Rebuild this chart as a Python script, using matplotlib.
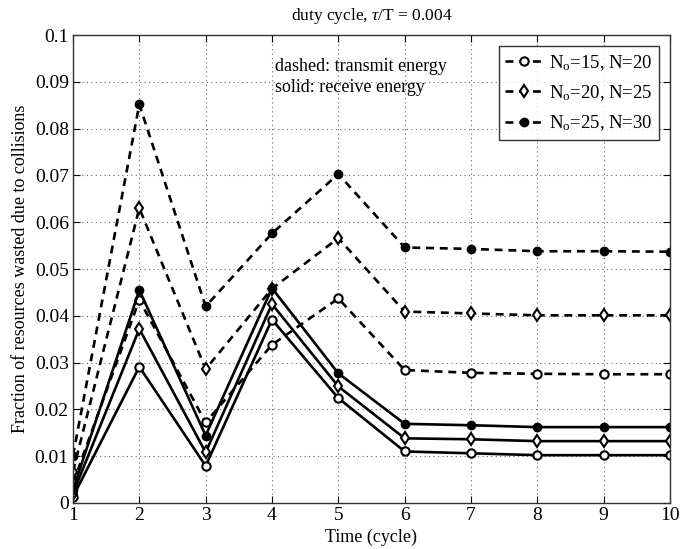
import matplotlib
matplotlib.use('Agg')
import matplotlib.pyplot as plt
from matplotlib.ticker import FixedLocator

plt.rcParams['font.family'] = ['Liberation Serif', 'DejaVu Serif']
plt.rcParams['mathtext.fontset'] = 'custom'
plt.rcParams['mathtext.rm'] = 'Liberation Serif'
plt.rcParams['mathtext.it'] = 'Liberation Serif:italic'

tiempo = [1, 2, 3, 4, 5, 6, 7, 8, 9, 10]

# dashed: transmit energy
tx_n20 = [0.0042, 0.0434, 0.0172, 0.0338, 0.0437, 0.0284, 0.0278, 0.0276, 0.0275, 0.0275]
tx_n25 = [0.0067, 0.0630, 0.0286, 0.0458, 0.0566, 0.0409, 0.0405, 0.0401, 0.0401, 0.0401]
tx_n30 = [0.0101, 0.0852, 0.0420, 0.0576, 0.0703, 0.0546, 0.0543, 0.0538, 0.0538, 0.0537]

# solid: receive energy
rx_n20 = [0.0013, 0.0291, 0.0079, 0.0392, 0.0224, 0.0110, 0.0106, 0.0102, 0.0102, 0.0102]
rx_n25 = [0.0020, 0.0372, 0.0108, 0.0425, 0.0249, 0.0138, 0.0136, 0.0132, 0.0132, 0.0132]
rx_n30 = [0.0028, 0.0455, 0.0144, 0.0459, 0.0277, 0.0169, 0.0166, 0.0162, 0.0162, 0.0162]

etiquetas = ['N$_\\mathrm{o}$=15, N=20', 'N$_\\mathrm{o}$=20, N=25', 'N$_\\mathrm{o}$=25, N=30']
y_ticks = [0, 0.01, 0.02, 0.03, 0.04, 0.05, 0.06, 0.07, 0.08, 0.09, 0.1]
y_tick_labels = ['0', '0.01', '0.02', '0.03', '0.04', '0.05', '0.06', '0.07', '0.08', '0.09', '0.1']

fig = plt.figure(figsize=(6.95, 5.49), dpi=100)
ax = fig.add_axes([0.105, 0.084, 0.859, 0.852])

estilos = [
    (tx_n20, rx_n20, dict(marker='o', markerfacecolor='white', markersize=6)),
    (tx_n25, rx_n25, dict(marker='d', markerfacecolor='white', markersize=6)),
    (tx_n30, rx_n30, dict(marker='o', markerfacecolor='black', markersize=5.5)),
]

lw = 1.9
for (tx, rx, mk), etiqueta in zip(estilos, etiquetas):
    ax.plot(tiempo, tx, color='black', linestyle=(0, (3, 2.2)), linewidth=lw,
            markeredgecolor='black', markeredgewidth=1.5, label=etiqueta, **mk)
    ax.plot(tiempo, rx, color='black', linestyle='-', linewidth=lw,
            markeredgecolor='black', markeredgewidth=1.5, **mk)

ax.set_xlim(1, 10)
ax.set_ylim(0, 0.1)
ax.xaxis.set_major_locator(FixedLocator(tiempo))
ax.set_yticks(y_ticks)
ax.set_yticklabels(y_tick_labels)
ax.tick_params(direction='in', top=True, right=True, labelsize=14, length=5, pad=3)
ax.grid(True, linestyle=(0, (1, 3)), color='#666666', linewidth=0.8)
for s in ax.spines.values():
    s.set_linewidth(1.0)
    s.set_color('#333333')

ax.set_xlabel('Time (cycle)', fontsize=13, labelpad=3)
ax.set_ylabel('Fraction of resources wasted due to collisions', fontsize=13, labelpad=4)
ax.set_title('duty cycle, $\\tau$/T = 0.004', fontsize=12.5, pad=11)

ax.text(4.05, 0.0952, 'dashed: transmit energy\nsolid: receive energy',
        fontsize=13, va='top', ha='left', linespacing=1.35)

leg = ax.legend(loc='upper right', fontsize=13.5, frameon=True, fancybox=False,
                edgecolor='black', handlelength=2.0, borderpad=0.35,
                labelspacing=0.55, handletextpad=0.3, borderaxespad=0.6)
leg.get_frame().set_linewidth(1.0)

fig.savefig('out.png', dpi=100)
